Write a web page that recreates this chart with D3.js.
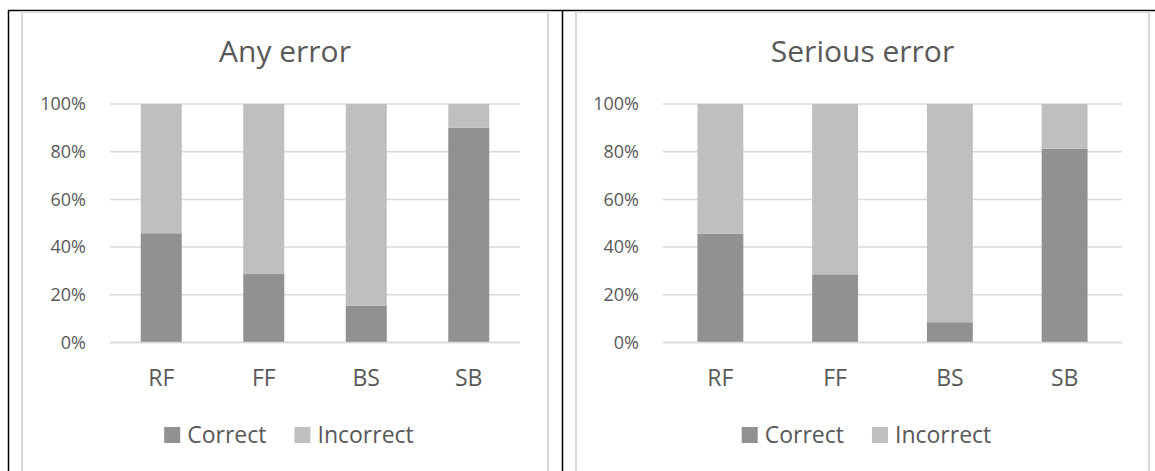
<!DOCTYPE html>
<html>
<head>
<meta charset="utf-8">
<script src="https://cdn.jsdelivr.net/npm/d3@7"></script>
<style>
  body { margin: 0; background: #fff; }
  text { font-family: "Open Sans", sans-serif; fill: #595959; }
</style>
</head>
<body>
<script>
// data
var categories = ["RF", "FF", "BS", "SB"];
var seriesNames = ["Correct", "Incorrect"];
var anyCorrect = [0.458, 0.287, 0.154, 0.901];
var anyIncorrect = [0.542, 0.713, 0.846, 0.099];
var seriousCorrect = [0.456, 0.286, 0.085, 0.813];
var seriousIncorrect = [0.544, 0.714, 0.915, 0.187];
var yTicks = [0, 0.2, 0.4, 0.6, 0.8, 1];
var titles = ["Any error", "Serious error"];

var colors = {Correct: "#919191", Incorrect: "#bfbfbf"};

var svg = d3.select("body").append("svg")
    .attr("width", 1155)
    .attr("height", 471);

// outer table lines
svg.append("line").attr("x1", 8).attr("x2", 1155).attr("y1", 10.5).attr("y2", 10.5)
    .attr("stroke", "#000").attr("stroke-width", 1.5);
svg.append("line").attr("x1", 8.5).attr("x2", 8.5).attr("y1", 10).attr("y2", 471)
    .attr("stroke", "#000").attr("stroke-width", 1.5);
svg.append("line").attr("x1", 562.5).attr("x2", 562.5).attr("y1", 10).attr("y2", 471)
    .attr("stroke", "#000").attr("stroke-width", 1.5);

function drawChart(box, plot, title, correct, incorrect) {
    var g = svg.append("g");

    // chart area border
    g.append("rect")
        .attr("x", box[0]).attr("y", 12)
        .attr("width", box[1] - box[0]).attr("height", 500)
        .attr("fill", "none")
        .attr("stroke", "#d9d9d9")
        .attr("stroke-width", 2);

    var x = d3.scaleBand().domain(categories).range(plot)
        .paddingInner(0.6).paddingOuter(0.3);
    var y = d3.scaleLinear().domain([0, 1]).range([342.5, 104]);

    var rows = categories.map(function(c, i) {
        return {cat: c, Correct: correct[i], Incorrect: incorrect[i]};
    });
    var stacked = d3.stack().keys(seriesNames)(rows);

    // gridlines
    g.selectAll(".grid").data(yTicks).enter().append("line")
        .attr("x1", plot[0]).attr("x2", plot[1])
        .attr("y1", d => y(d)).attr("y2", d => y(d))
        .attr("stroke", "#d9d9d9").attr("stroke-width", 1.5);

    g.selectAll(".ylab").data(yTicks).enter().append("text")
        .attr("x", plot[0] - 24)
        .attr("y", d => y(d))
        .attr("dy", "0.35em")
        .attr("text-anchor", "end")
        .style("font-size", "18px")
        .text(d3.format(".0%"));

    // bars
    stacked.forEach(function(s) {
        g.selectAll(".bar-" + s.key).data(s).enter().append("rect")
            .attr("x", d => x(d.data.cat))
            .attr("width", x.bandwidth())
            .attr("y", d => y(d[1]))
            .attr("height", d => y(d[0]) - y(d[1]))
            .attr("fill", colors[s.key]);
    });

    // baseline on top of bars
    g.append("line")
        .attr("x1", plot[0]).attr("x2", plot[1])
        .attr("y1", y(0)).attr("y2", y(0))
        .attr("stroke", "#d9d9d9").attr("stroke-width", 1.5);

    g.selectAll(".xlab").data(categories).enter().append("text")
        .attr("x", d => x(d) + x.bandwidth() / 2)
        .attr("y", 386)
        .attr("text-anchor", "middle")
        .style("font-size", "23px")
        .text(d => d);

    g.append("text")
        .attr("x", (box[0] + box[1]) / 2)
        .attr("y", 62)
        .attr("text-anchor", "middle")
        .style("font-size", "30px")
        .text(title);

    // legend
    var leg = g.append("g");
    var cx = 0;
    seriesNames.forEach(function(name, i) {
        leg.append("rect")
            .attr("x", cx).attr("y", 427)
            .attr("width", 16).attr("height", 16)
            .attr("fill", colors[name]);
        var t = leg.append("text")
            .attr("x", cx + 23).attr("y", 443)
            .style("font-size", "23px")
            .text(name);
        cx += 23 + t.node().getComputedTextLength() + (i == 0 ? 28 : 0);
    });
    leg.attr("transform", "translate(" + ((box[0] + box[1]) / 2 + 4 - cx / 2) + ",0)");
}

drawChart([22, 548], [110, 520], titles[0], anyCorrect, anyIncorrect);
drawChart([576, 1149], [663, 1122], titles[1], seriousCorrect, seriousIncorrect);
</script>
</body>
</html>
